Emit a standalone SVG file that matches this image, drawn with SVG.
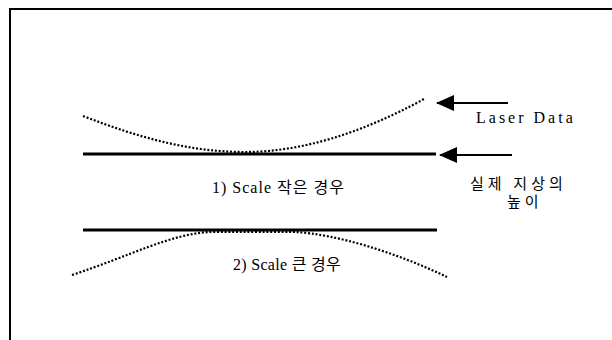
<svg xmlns="http://www.w3.org/2000/svg" width="612" height="340" viewBox="0 0 612 340">
  <style>
    .frame{stroke:#000;stroke-width:2;fill:none}
    .solid{stroke:#000;stroke-width:3;fill:none}
    .dot{stroke:#000;stroke-width:2.2;fill:none;stroke-dasharray:2 1.8}
    .arrow{stroke:#000;stroke-width:2;fill:none}
    .txt{font-family:"Liberation Serif","Noto Sans CJK KR",serif;font-size:16px;fill:#000}
    .kr{font-size:15px;letter-spacing:4px}
  </style>
  <defs>
    <marker id="ah" markerUnits="userSpaceOnUse" markerWidth="18" markerHeight="16" refX="17" refY="8" orient="auto">
      <path d="M0,0 L18,8 L0,16 Z" fill="#000"/>
    </marker>
  </defs>
  <rect width="612" height="340" fill="#fff"/>
  <g id="frame">
    <path class="frame" d="M10,340 L10,9 L612,9"/>
  </g>
  <g id="ground-1">
    <line class="solid" x1="83" y1="154" x2="436" y2="154"/>
  </g>
  <g id="laser-1">
    <path class="dot" d="M83,116 C140,138 190,152 245,152 C300,152 360,134 424,99"/>
  </g>
  <g id="ground-2">
    <line class="solid" x1="83" y1="230" x2="437" y2="230"/>
  </g>
  <g id="laser-2">
    <path class="dot" d="M72,275 C130,256 170,234 210,232 L295,232 C335,234 395,252 447,277"/>
  </g>
  <g id="connectors">
    <line class="arrow" x1="508" y1="103" x2="437" y2="103" marker-end="url(#ah)"/>
    <line class="arrow" x1="512" y1="155" x2="440" y2="155" marker-end="url(#ah)"/>
  </g>
  <g id="label-laser">
    <text class="txt" x="476" y="123" style="letter-spacing:3px">Laser Data</text>
  </g>
  <g id="label-small">
    <text class="txt" x="212" y="193" style="letter-spacing:1px">1) Scale 작은 경우</text>
  </g>
  <g id="label-large">
    <text class="txt" x="233" y="270" style="letter-spacing:0.3px">2) Scale 큰 경우</text>
  </g>
  <g id="label-ground">
    <text class="txt kr" x="470" y="189">실제 지상의</text>
    <text class="txt kr" x="507" y="207">높이</text>
  </g>
</svg>
